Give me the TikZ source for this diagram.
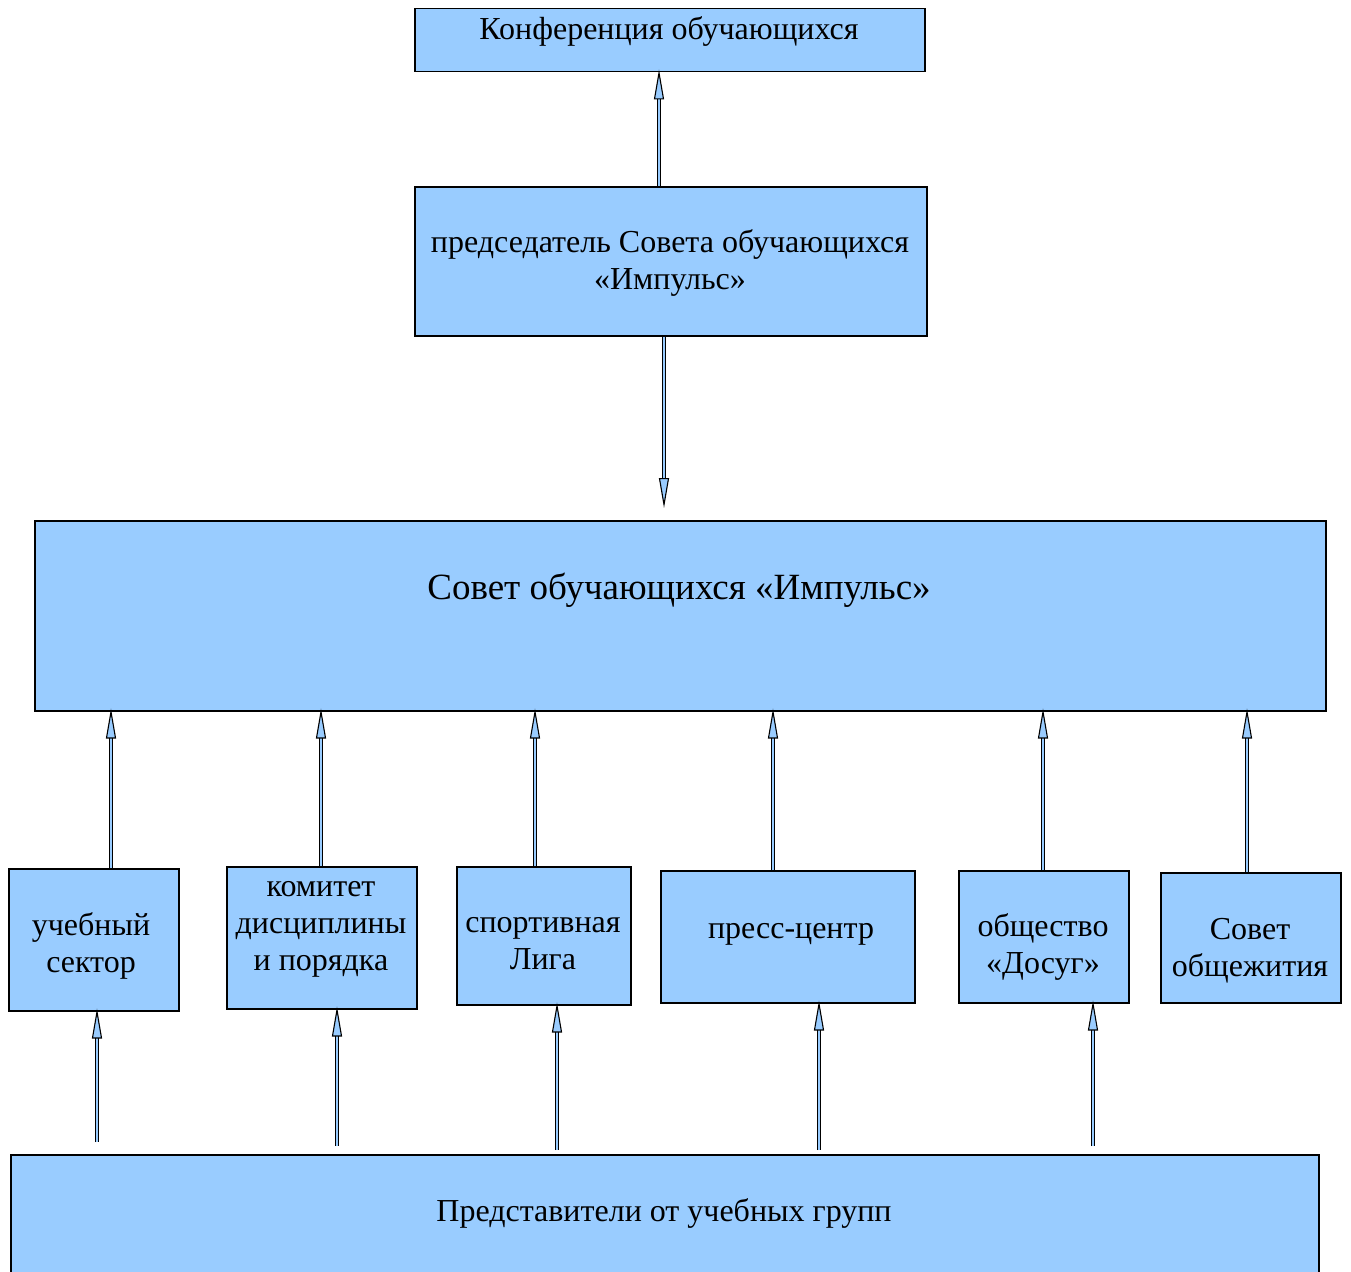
\documentclass[tikz,border=0pt]{standalone}
\usepackage{fontspec}
\setmainfont{Liberation Serif}
\usetikzlibrary{arrows.meta}
\definecolor{boxblue}{HTML}{99CCFF}
\tikzset{
  box/.style={draw=black, line width=1.5pt, fill=boxblue, rectangle, inner sep=0pt, anchor=north west},
  txt/.style={font=\fontsize{32}{37}\selectfont, align=center, anchor=base, inner sep=0pt},
  bigtxt/.style={font=\fontsize{37}{42}\selectfont, align=center, anchor=base, inner sep=0pt},
  barrow/.style={draw=black, line width=1.1pt, double=boxblue, double distance=2.2pt,
     shorten >=-3pt, -{Triangle[length=30pt, width=10pt, fill=boxblue]}},
}
\begin{document}
\begin{tikzpicture}[x=1pt,y=-1pt]
\useasboundingbox (0,0) rectangle (1351,1271);
\clip (0,0) rectangle (1351,1271);
\fill[white] (0,0) rectangle (1351,1271);
% boxes
\node[box, minimum width=510pt, minimum height=63pt] (conf) at (414,8) {};
\node[box, minimum width=512pt, minimum height=149pt] (chair) at (414,186) {};
\node[box, minimum width=1291pt, minimum height=190pt] (sovet) at (34,520) {};
\node[box, minimum width=170pt, minimum height=142pt] (ucheb) at (8,868) {};
\node[box, minimum width=190pt, minimum height=142pt] (komitet) at (226,866) {};
\node[box, minimum width=174pt, minimum height=138pt] (sport) at (456,866) {};
\node[box, minimum width=254pt, minimum height=132pt] (press) at (660,870) {};
\node[box, minimum width=170pt, minimum height=132pt] (dosug) at (958,870) {};
\node[box, minimum width=180pt, minimum height=130pt] (obsch) at (1160,872) {};
\node[box, minimum width=1308pt, minimum height=140pt] (pred) at (10,1154) {};
% texts (anchor = baseline of last line)
\node[txt] (tconf) at (669,40) {Конференция обучающихся};
\node[txt] (tchair) at (670,289) {председатель Совета обучающихся\\«Импульс»};
\node[bigtxt] (tsovet) at (679,599) {Совет обучающихся «Импульс»};
\node[txt] (tucheb) at (91,972) {учебный\\сектор};
\node[txt] (tkom) at (321,970) {комитет\\дисциплины\\и порядка};
\node[txt] (tsport) at (543,969) {спортивная\\Лига};
\node[txt] (tpress) at (791,938) {пресс-центр};
\node[txt] (tdosug) at (1043,973) {общество\\«Досуг»};
\node[txt] (tobsch) at (1250,976) {Совет\\общежития};
\node[txt] (tpred) at (664,1221) {Представители от учебных групп};
% arrows
\draw[barrow] (659,0 |- chair.north) -- (659,0 |- conf.south);
\coordinate (downend) at (664,505);
\draw[barrow] (664,0 |- chair.south) -- (downend);
\draw[barrow] (111,0 |- ucheb.north) -- (111,0 |- sovet.south);
\draw[barrow] (321,0 |- komitet.north) -- (321,0 |- sovet.south);
\draw[barrow] (535,0 |- sport.north) -- (535,0 |- sovet.south);
\draw[barrow] (773,0 |- press.north) -- (773,0 |- sovet.south);
\draw[barrow] (1043,0 |- dosug.north) -- (1043,0 |- sovet.south);
\draw[barrow] (1247,0 |- obsch.north) -- (1247,0 |- sovet.south);
\coordinate (p1) at (97,1142);
\coordinate (p2) at (337,1146);
\coordinate (p3) at (557,1150);
\coordinate (p4) at (819,1150);
\coordinate (p5) at (1093,1146);
\draw[barrow] (p1) -- (p1 |- ucheb.south);
\draw[barrow] (p2) -- (p2 |- komitet.south);
\draw[barrow] (p3) -- (p3 |- sport.south);
\draw[barrow] (p4) -- (p4 |- press.south);
\draw[barrow] (p5) -- (p5 |- dosug.south);
\end{tikzpicture}
\end{document}
